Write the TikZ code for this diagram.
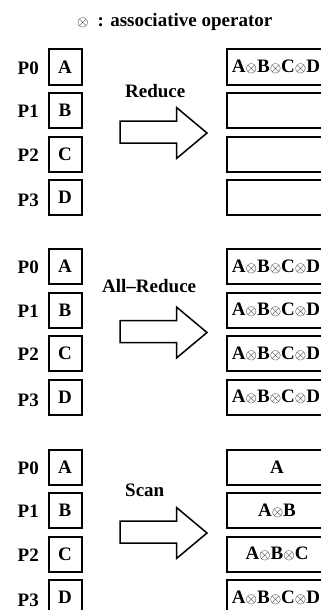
\documentclass[tikz,border=0pt]{standalone}
\usepackage{fontspec}
\usepackage{graphicx}
\setmainfont{Liberation Serif}
% circled-times operator used in the combined values
\newcommand{\ot}{\raisebox{0.3pt}{\scalebox{0.85}{$\otimes$}}}
\begin{document}
\begin{tikzpicture}[x=1pt,y=-1pt,
  every node/.style={font=\fontsize{19}{22}\selectfont\bfseries, inner sep=0pt},
  cell/.style={draw, line width=2pt, minimum width=33pt, minimum height=35pt, anchor=north west},
  wide/.style={cell, minimum width=100pt},
  proc/.style={anchor=base east},
  bigarrow/.style={draw, line width=1.5pt, line join=miter}]
\useasboundingbox (0,0) rectangle (321,610);
\clip (0,0) rectangle (321,610);

\node[anchor=base west] (title) at (77,27) {\ot\hspace{9pt}: associative operator};

% three panels: input column, block arrow with operation name, output column
\foreach \s/\name/\lx/\ly [count=\k] in {0/Reduce/125/97, 199.5/All--Reduce/102/93, 400/Scan/125/96} {
  \begin{scope}[shift={(0,\s)}]
    \foreach \t/\off [count=\j from 0] in {A/2,B/2,C/2,D/4} {
      \node[cell] (in\k\j) at (47.5,{48.5+43.5*\j}) {\t};
      \node[proc] (p\k\j) at (39,{72.3+43.5*\j+\off}) {P\j};
      \node[wide] (out\k\j) at (226,{48.5+43.5*\j}) {};
    }
    \draw[bigarrow] (120,121) -- (176.5,121) -- (176.5,107.5) -- (207,133)
      -- (176.5,158.5) -- (176.5,143) -- (120,143) -- cycle;
    \node[anchor=base west] (op\k) at (\lx,\ly) {\name};
  \end{scope}
}

% results held by each process
\node (r10) at ([xshift=-1pt]out10) {A\ot B\ot C\ot D};
\foreach \j in {0,...,3}
  \node (r2\j) at ([xshift=-1pt]out2\j) {A\ot B\ot C\ot D};
\node (r30) at (out30) {A};
\node (r31) at (out31) {A\ot B};
\node (r32) at (out32) {A\ot B\ot C};
\node (r33) at ([xshift=-1pt]out33) {A\ot B\ot C\ot D};
\end{tikzpicture}
\end{document}
